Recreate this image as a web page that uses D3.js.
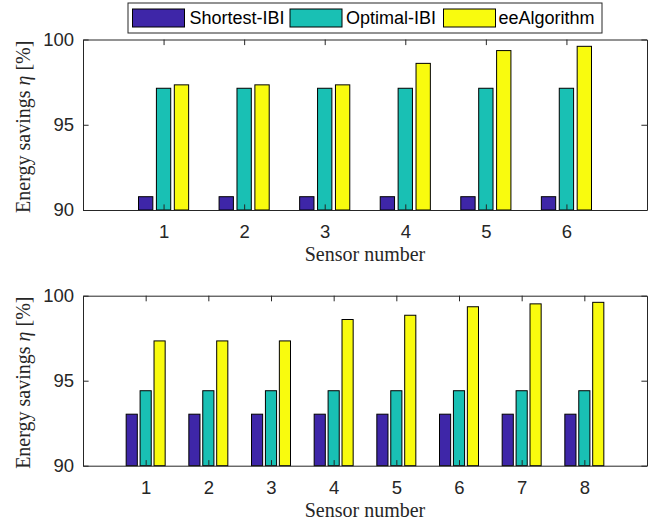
<!DOCTYPE html>
<html>
<head>
<meta charset="utf-8">
<script src="https://cdn.jsdelivr.net/npm/d3@7"></script>
<style>
  html, body { margin: 0; padding: 0; background: #fff; }
  svg { display: block; }
</style>
</head>
<body>
<svg id="chart" width="656" height="524"></svg>
<script>
// ---- data ----
const seriesNames = ["Shortest-IBI", "Optimal-IBI", "eeAlgorithm"];
const seriesColors = ["#3e26a8", "#19c0b4", "#f9fb0e"];

const sensorsTop = [1, 2, 3, 4, 5, 6];
const shortestTop = [90.78, 90.78, 90.78, 90.78, 90.78, 90.78];
const optimalTop = [97.14, 97.14, 97.14, 97.14, 97.14, 97.14];
const eeTop = [97.34, 97.34, 97.34, 98.6, 99.35, 99.6];

const sensorsBottom = [1, 2, 3, 4, 5, 6, 7, 8];
const shortestBottom = [93.03, 93.03, 93.03, 93.03, 93.03, 93.03, 93.03, 93.03];
const optimalBottom = [94.41, 94.41, 94.41, 94.41, 94.41, 94.41, 94.41, 94.41];
const eeBottom = [97.34, 97.34, 97.34, 98.6, 98.85, 99.35, 99.52, 99.61];

const yTicks = [90, 95, 100];
const yLabelText = "Energy savings ";
const xLabelText = "Sensor number";

// ---- drawing ----
const svg = d3.select("#chart");
const axisColor = "#262626";
const sansFont = "'Liberation Sans', Arial, Helvetica, sans-serif";
const serifFont = "'Liberation Serif', 'Times New Roman', serif";

function drawPanel(cfg) {
  const { left, right, top, bottom, sensors, values } = cfg;
  const x = d3.scaleLinear().domain([0, sensors.length + 1]).range([left, right]);
  const y = d3.scaleLinear().domain([90, 100]).range([bottom, top]);
  const off = d3.scaleBand().domain(seriesNames).range([-1/3, 1/3]).paddingInner(0.2).paddingOuter(0.1);
  const g = svg.append("g");

  // bars
  seriesNames.forEach((name, si) => {
    g.append("g").selectAll("rect")
      .data(sensors.map((s, i) => ({ s, v: values[si][i] })))
      .join("rect")
      .attr("x", d => x(d.s + off(name)))
      .attr("width", d => x(d.s + off(name) + off.bandwidth()) - x(d.s + off(name)))
      .attr("y", d => y(d.v))
      .attr("height", d => y(90) - y(d.v))
      .attr("fill", seriesColors[si])
      .attr("stroke", "#000")
      .attr("stroke-width", 1);
  });

  const tl = 5.6;
  // bottom axis
  const ax = g.append("g").attr("transform", `translate(0,${bottom})`)
    .call(d3.axisBottom(x).tickValues(sensors).tickFormat(d3.format("d"))
      .tickSizeInner(-tl).tickSizeOuter(0).tickPadding(15));
  // top axis
  const axT = g.append("g").attr("transform", `translate(0,${top})`)
    .call(d3.axisTop(x).tickValues(sensors).tickFormat("")
      .tickSizeInner(-tl).tickSizeOuter(0));
  // left axis
  const ay = g.append("g").attr("transform", `translate(${left},0)`)
    .call(d3.axisLeft(y).tickValues(yTicks).tickFormat(d3.format("d"))
      .tickSizeInner(-tl).tickSizeOuter(0).tickPadding(9));
  // right axis
  const ayR = g.append("g").attr("transform", `translate(${right},0)`)
    .call(d3.axisRight(y).tickValues(yTicks).tickFormat("")
      .tickSizeInner(-tl).tickSizeOuter(0));

  [ax, axT, ay, ayR].forEach(a => {
    a.selectAll("path.domain").attr("stroke", axisColor).attr("stroke-width", 1);
    a.selectAll(".tick line").attr("stroke", axisColor).attr("stroke-width", 1);
    a.selectAll(".tick text").attr("fill", axisColor)
      .style("font-family", sansFont).style("font-size", "18.5px");
  });

  // x label
  g.append("text")
    .attr("x", (left + right) / 2)
    .attr("y", bottom + 51)
    .attr("text-anchor", "middle")
    .style("font-family", serifFont)
    .style("font-size", "20px")
    .attr("fill", axisColor)
    .text(xLabelText);

  // y label
  const yl = g.append("text")
    .attr("transform", `translate(30,${(top + bottom) / 2 + 2}) rotate(-90)`)
    .attr("text-anchor", "middle")
    .style("font-family", serifFont)
    .style("font-size", "20px")
    .attr("fill", axisColor);
  yl.append("tspan").text(yLabelText);
  yl.append("tspan").style("font-style", "italic").text("η");
  yl.append("tspan").text(" [%]");
}

drawPanel({ left: 83, right: 647, top: 39.5, bottom: 210,
  sensors: sensorsTop, values: [shortestTop, optimalTop, eeTop] });
drawPanel({ left: 83, right: 647, top: 295.7, bottom: 465.7,
  sensors: sensorsBottom, values: [shortestBottom, optimalBottom, eeBottom] });

// legend
const lg = svg.append("g");
lg.append("rect").attr("x", 128).attr("y", 3).attr("width", 474).attr("height", 30)
  .attr("fill", "#fff").attr("stroke", axisColor).attr("stroke-width", 1);
const swX = [132.5, 290, 443.5];
const txX = [189.5, 346, 498.5];
seriesNames.forEach((name, i) => {
  lg.append("rect").attr("x", swX[i]).attr("y", 9).attr("width", 52).attr("height", 18)
    .attr("fill", seriesColors[i]).attr("stroke", "#000").attr("stroke-width", 1);
  lg.append("text").attr("x", txX[i]).attr("y", 18).attr("dy", "0.35em")
    .style("font-family", sansFont).style("font-size", "18px")
    .attr("fill", "#000").text(name);
});
</script>
</body>
</html>
